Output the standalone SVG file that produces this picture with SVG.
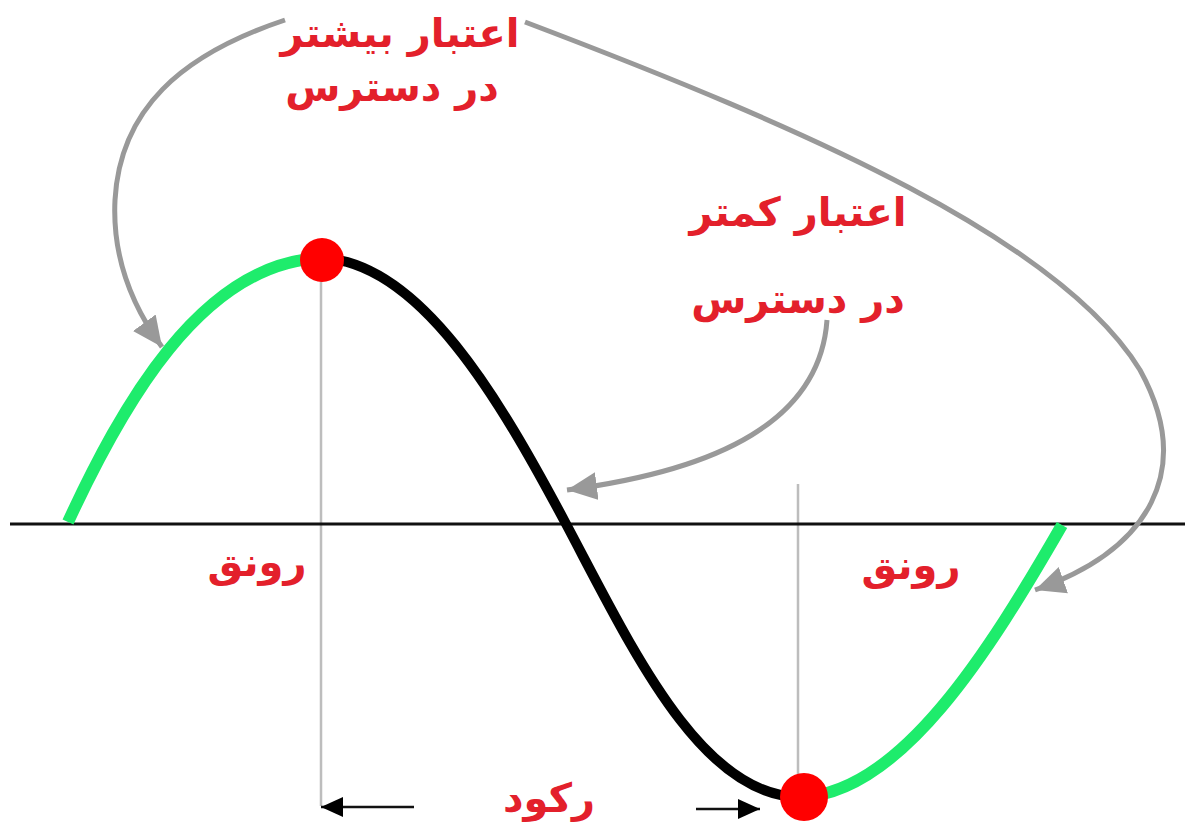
<svg xmlns="http://www.w3.org/2000/svg" width="1185" height="826" viewBox="0 0 1185 826">
<style>
.lbl{font-family:"DejaVu Sans",sans-serif;font-weight:bold;font-size:40px;fill:#e3202b;text-anchor:middle}
.conn{fill:none;stroke:#999;stroke-width:5}
.blk{fill:none;stroke:#111;stroke-width:2.5}
.guide{stroke:#bdbdbd;stroke-width:2.5}
.up{fill:none;stroke:#1eec6c;stroke-width:12}
.down{fill:none;stroke:#000;stroke-width:10}
</style>
<defs>
<marker id="ga" markerUnits="userSpaceOnUse" markerWidth="32" markerHeight="30" refX="30" refY="14" orient="auto">
<path d="M0,0 L30,14 L0,28 z" fill="#999"/>
</marker>
<marker id="ba" markerUnits="userSpaceOnUse" markerWidth="24" markerHeight="22" refX="22" refY="10" orient="auto">
<path d="M0,0 L22,10 L0,20 z" fill="#000"/>
</marker>
</defs>
<rect width="1185" height="826" fill="#fff"/>
<g id="guides">
<line class="guide" x1="321" y1="262" x2="321" y2="806"/>
<line class="guide" x1="798" y1="484" x2="798" y2="790"/>
</g>
<g id="axis">
<line x1="10" y1="524" x2="1185" y2="524" stroke="#111" stroke-width="3"/>
</g>
<g id="wave">
<path class="up" d="M68,522 C120,410 200,262 322,258"/>
<path class="down" d="M322,258 C420,262 500,400 565,522 C630,644 700,797 800,797"/>
<path class="up" d="M800,797 C900,795 990,650 1062,525"/>
</g>
<g id="peak"><circle cx="322" cy="260" r="22" fill="#ff0000"/></g>
<g id="trough"><circle cx="804" cy="797" r="24" fill="#ff0000"/></g>
<g id="connectors">
<path class="conn" d="M285,20 C180,55 120,110 115,200 C112,260 135,310 162,347" marker-end="url(#ga)"/>
<path class="conn" d="M525,22 C810,130 1060,240 1140,370 C1195,470 1150,550 1035,590" marker-end="url(#ga)"/>
<path class="conn" d="M827,320 C820,420 720,470 567,490" marker-end="url(#ga)"/>
<path class="blk" d="M414,807 L321,807" marker-end="url(#ba)"/>
<path class="blk" d="M696,809 L760,809" marker-end="url(#ba)"/>
</g>
<g id="label-more">
<text class="lbl" x="400" y="47">اعتبار بیشتر</text>
<text class="lbl" x="392" y="101">در دسترس</text>
</g>
<g id="label-less">
<text class="lbl" x="798" y="226">اعتبار کمتر</text>
<text class="lbl" x="798" y="313">در دسترس</text>
</g>
<g id="label-boom-left"><text class="lbl" x="257" y="576">رونق</text></g>
<g id="label-boom-right"><text class="lbl" x="911" y="579">رونق</text></g>
<g id="label-recession"><text class="lbl" x="549" y="812">رکود</text></g>
</svg>
